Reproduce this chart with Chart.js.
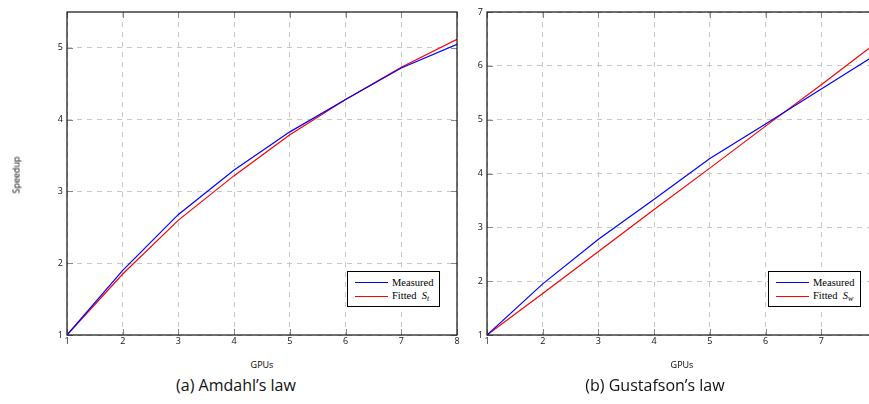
<!DOCTYPE html>
<html>
<head>
<meta charset="utf-8">
<script src="https://cdn.jsdelivr.net/npm/chart.js@4"></script>
<style>
  html, body { margin: 0; padding: 0; background: #fff; }
  body { width: 869px; height: 404px; overflow: hidden; position: relative; font-family: "Open Sans", sans-serif; }
  .box { position: absolute; top: 0; width: 470px; height: 350px; }
  .lbl { position: absolute; font-size: 9px; color: #000; white-space: nowrap; }
  .cap { position: absolute; font-size: 16px; color: #111; white-space: nowrap; transform: translateX(-50%); }
  .legend { position: absolute; border: 1px solid #000; background: #fff; font-family: "Liberation Serif", serif; font-size: 10.5px; padding: 3px 6px 3px 7px; }
  .legend div { display: flex; align-items: center; height: 14px; }
  .legend span.sw { display: inline-block; width: 33px; height: 0; border-top: 1.2px solid; margin-right: 4px; }
  .legend sub { font-size: 8px; vertical-align: -2px; }
</style>
</head>
<body>
<div class="box" style="left:0px"><canvas id="amdahlChart" width="470" height="350"></canvas></div>
<div class="box" style="left:420px"><canvas id="gustafsonChart" width="470" height="350"></canvas></div>

<div class="lbl" style="left:16px;top:175px;transform:translate(-50%,-50%) rotate(-90deg)">Speedup</div>
<div class="lbl" style="left:262px;top:358px;transform:translateX(-50%)">GPUs</div>
<div class="lbl" style="left:682px;top:358px;transform:translateX(-50%)">GPUs</div>
<div class="cap" style="left:236px;top:374px">(a) Amdahl’s law</div>
<div class="cap" style="left:655px;top:374px">(b) Gustafson’s law</div>

<div class="legend" id="legendA" style="left:347px;top:271px"></div>
<div class="legend" id="legendB" style="left:768px;top:271px"></div>

<script>
// GPU 数量
const gpus = [1, 2, 3, 4, 5, 6, 7, 8];

// Amdahl 定律：实测与拟合
const amdahlMeasured = [1, 1.9, 2.68, 3.3, 3.83, 4.28, 4.72, 5.05];
const amdahlFitted = [1, 1.85, 2.6, 3.22, 3.79, 4.28, 4.73, 5.12];

// Gustafson 定律：实测与拟合
const gustafsonMeasured = [1, 1.95, 2.78, 3.52, 4.28, 4.92, 5.57, 6.22];
const gustafsonFitted = [1, 1.77, 2.55, 3.33, 4.1, 4.88, 5.65, 6.44];

const tickFont = { family: 'Open Sans', size: 9 };

// 外框和向内的刻度线
const framePlugin = {
    id: 'frame',
    afterDraw(chart) {
        const { ctx, chartArea: a, scales } = chart;
        ctx.save();
        ctx.strokeStyle = '#888';
        ctx.lineWidth = 1;
        scales.x.ticks.forEach(t => {
            const px = Math.round(scales.x.getPixelForValue(t.value)) + 0.5;
            ctx.beginPath();
            ctx.moveTo(px, a.top); ctx.lineTo(px, a.top + 6);
            ctx.moveTo(px, a.bottom); ctx.lineTo(px, a.bottom - 6);
            ctx.stroke();
        });
        scales.y.ticks.forEach(t => {
            const py = Math.round(scales.y.getPixelForValue(t.value)) + 0.5;
            ctx.beginPath();
            ctx.moveTo(a.left, py); ctx.lineTo(a.left + 6, py);
            ctx.moveTo(a.right, py); ctx.lineTo(a.right - 6, py);
            ctx.stroke();
        });
        ctx.strokeStyle = '#111';
        ctx.lineWidth = 1.2;
        ctx.strokeRect(a.left, a.top, a.right - a.left, a.bottom - a.top);
        ctx.restore();
    }
};

function makeChart(id, measured, fitted, yMax, sub) {
    return new Chart(document.getElementById(id), {
        type: 'line',
        data: {
            labels: gpus,
            datasets: [{
                label: 'Measured',
                data: gpus.map((g, i) => ({ x: g, y: measured[i] })),
                borderColor: '#0000ff',
                borderWidth: 1.2,
                pointRadius: 0,
                tension: 0
            }, {
                label: 'Fitted',
                sub: sub,
                data: gpus.map((g, i) => ({ x: g, y: fitted[i] })),
                borderColor: '#ff0000',
                borderWidth: 1.2,
                pointRadius: 0,
                tension: 0
            }]
        },
        options: {
            responsive: false,
            animation: false,
            layout: { padding: { top: 12, right: 13, left: 0, bottom: 0 } },
            plugins: { legend: { display: false }, tooltip: { enabled: false } },
            scales: {
                x: {
                    type: 'linear',
                    min: 1,
                    max: 8,
                    ticks: { stepSize: 1, font: tickFont, color: '#111', padding: 1 },
                    grid: { color: '#c8c8c8', tickLength: 0, drawTicks: false },
                    border: { display: false, dash: [5, 5] },
                    afterFit(scale) { scale.height = 15; }
                },
                y: {
                    min: 1,
                    max: yMax,
                    ticks: { stepSize: 1, font: tickFont, color: '#111', padding: 4 },
                    grid: { color: '#c8c8c8', tickLength: 0, drawTicks: false },
                    border: { display: false, dash: [5, 5] },
                    afterBuildTicks(scale) {
                        scale.ticks = scale.ticks.filter(t => Number.isInteger(t.value));
                    },
                    afterFit(scale) { scale.width = 67; }
                }
            }
        },
        plugins: [framePlugin]
    });
}

function buildLegend(chart, elId) {
    const el = document.getElementById(elId);
    chart.data.datasets.forEach(ds => {
        const row = document.createElement('div');
        const sw = document.createElement('span');
        sw.className = 'sw';
        sw.style.borderTopColor = ds.borderColor;
        row.appendChild(sw);
        const txt = document.createElement('span');
        txt.innerHTML = ds.label + (ds.sub ? '&nbsp;&nbsp;<i>S</i><sub><i>' + ds.sub + '</i></sub>' : '');
        row.appendChild(txt);
        el.appendChild(row);
    });
}

const amdahlChart = makeChart('amdahlChart', amdahlMeasured, amdahlFitted, 5.5, 't');
const gustafsonChart = makeChart('gustafsonChart', gustafsonMeasured, gustafsonFitted, 7, 'w');
buildLegend(amdahlChart, 'legendA');
buildLegend(gustafsonChart, 'legendB');
</script>
</body>
</html>
